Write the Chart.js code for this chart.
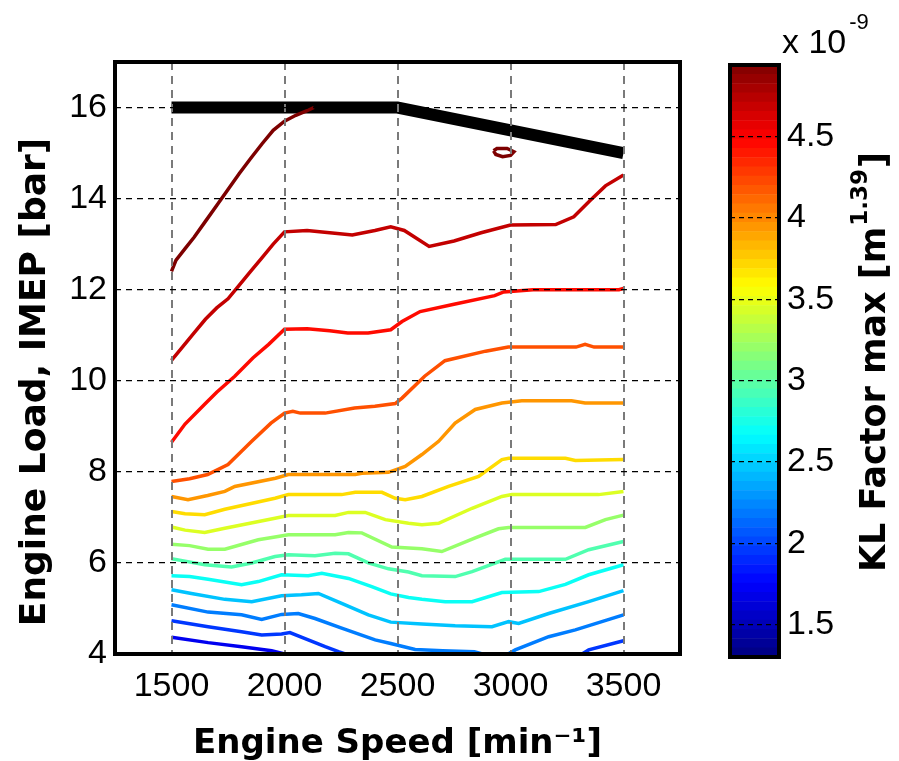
<!DOCTYPE html>
<html>
<head>
<meta charset="utf-8">
<script src="https://cdn.jsdelivr.net/npm/chart.js@4.4.1/dist/chart.umd.min.js"></script>
<style>
  body { margin: 0; background: #fff; }
  #wrap { position: relative; width: 899px; height: 761px; }
  #mapChart { position: absolute; left: 0; top: 0; }
  #barChart { position: absolute; left: 700px; top: 0; }
</style>
</head>
<body>
<div id="wrap">
  <canvas id="mapChart" width="700" height="761"></canvas>
  <canvas id="barChart" width="199" height="761"></canvas>
</div>
<script>
// axis ticks
const speedTicks = [1500, 2000, 2500, 3000, 3500];
const loadTicks = [4, 6, 8, 10, 12, 14, 16];
const cbarTicks = [1.5, 2, 2.5, 3, 3.5, 4, 4.5];
const cbarMin = 1.30;
const cbarMax = 4.94;

// full load limit
const fullLoadSpeed = [1500, 2500, 3500];
const fullLoadImep = [16, 16, 15];

// contour levels (x 10^-9), each line as [speed, imep]
const levels = [1.70, 1.95, 2.20, 2.45, 2.70, 2.95, 3.20, 3.45, 3.70, 3.95, 4.20, 4.45, 4.70, 4.95];

const c170 = [[1500,4.37],[1662,4.25],[1810,4.16],[1943,4.07],[2000,4.0],[2050,3.95]];
const c195 = [[1500,4.73],[1662,4.60],[1810,4.49],[1899,4.42],[1987,4.44],[2024,4.47],[2105,4.31],[2180,4.16],[2239,4.05],[2300,3.95],
              [2800,null],
              [3300,3.95],[3346,4.09],[3500,4.29]];
const c220 = [[1500,5.08],[1662,4.92],[1810,4.86],[1899,4.76],[1987,4.87],[2061,4.89],[2135,4.78],[2253,4.57],[2401,4.31],[2470,4.23],
              [2578,4.10],[2700,4.07],[2840,4.05],[2900,3.97],[2980,3.97],[3021,4.09],[3169,4.38],[3287,4.53],[3500,4.86]];
const c245 = [[1500,5.41],[1588,5.33],[1736,5.20],[1855,5.15],[1987,5.28],[2075,5.30],[2150,5.33],[2253,5.11],[2371,4.86],[2470,4.70],
              [2608,4.66],[2755,4.62],[2918,4.60],[2992,4.71],[3036,4.67],[3169,4.89],[3346,5.15],[3500,5.39]];
const c270 = [[1500,5.72],[1580,5.70],[1662,5.64],[1810,5.52],[1884,5.59],[1987,5.74],[2105,5.72],[2165,5.77],[2283,5.66],[2386,5.48],
              [2470,5.32],[2549,5.24],[2608,5.20],[2711,5.15],[2830,5.15],[2962,5.35],[3125,5.37],[3243,5.53],[3346,5.74],[3500,5.96]];
const c295 = [[1500,6.09],[1560,6.04],[1647,5.96],[1766,5.91],[1855,6.00],[1958,6.14],[2017,6.18],[2135,6.16],[2224,6.21],[2283,6.20],
              [2371,6.00],[2460,5.87],[2549,5.80],[2608,5.72],[2755,5.70],[2830,5.81],[2977,6.08],[3243,6.08],[3346,6.29],[3500,6.47]];
const c320 = [[1500,6.41],[1580,6.38],[1662,6.30],[1736,6.30],[1884,6.51],[1958,6.57],[2017,6.62],[2224,6.62],[2283,6.67],[2342,6.66],
              [2475,6.35],[2608,6.31],[2696,6.25],[2844,6.55],[2947,6.75],[2992,6.78],[3331,6.78],[3420,6.95],[3500,7.05]];
const c345 = [[1500,6.79],[1560,6.72],[1647,6.67],[1736,6.76],[1958,6.98],[2017,7.04],[2224,7.04],[2283,7.11],[2357,7.11],[2446,6.95],
              [2549,6.87],[2608,6.84],[2682,6.87],[2830,7.20],[2962,7.46],[3006,7.50],[3390,7.50],[3500,7.57]];
const c370 = [[1500,7.13],[1560,7.08],[1647,7.06],[1736,7.18],[1958,7.42],[2017,7.50],[2253,7.50],[2313,7.55],[2431,7.55],[2490,7.42],
              [2534,7.39],[2608,7.46],[2726,7.68],[2859,7.90],[2962,8.27],[2992,8.30],[3243,8.30],[3287,8.25],[3500,8.27]];
const c395 = [[1500,7.46],[1573,7.39],[1660,7.48],[1736,7.57],[1780,7.68],[1960,7.86],[2017,7.94],[2313,7.94],[2342,7.97],[2460,7.99],
              [2534,8.12],[2608,8.38],[2682,8.67],[2755,9.07],[2844,9.37],[2962,9.51],[3050,9.56],[3270,9.56],[3330,9.51],[3500,9.51]];
const c420 = [[1500,7.79],[1580,7.85],[1660,7.94],[1750,8.16],[1810,8.45],[1855,8.67],[1940,9.07],[2000,9.29],[2037,9.33],[2070,9.29],
              [2180,9.29],[2310,9.40],[2400,9.44],[2490,9.50],[2520,9.62],[2620,10.10],[2710,10.44],[2890,10.65],[2990,10.74],[3290,10.74],
              [3330,10.80],[3370,10.74],[3500,10.74]];
const c445 = [[1500,8.65],[1560,9.05],[1650,9.50],[1700,9.75],[1780,10.10],[1860,10.50],[1930,10.80],[2000,11.13],[2100,11.14],[2200,11.10],
              [2280,11.05],[2370,11.05],[2470,11.12],[2520,11.30],[2600,11.52],[2750,11.68],[2930,11.87],[2970,11.95],[3100,12.00],[3480,12.00],[3500,12.03]];
const c470 = [[1500,10.45],[1550,10.75],[1600,11.05],[1650,11.35],[1700,11.60],[1750,11.80],[1800,12.10],[1850,12.40],[1900,12.70],[1950,13.00],
              [2000,13.27],[2100,13.30],[2200,13.25],[2300,13.20],[2400,13.30],[2470,13.38],[2530,13.30],[2640,12.95],[2750,13.07],[2870,13.25],
              [3000,13.42],[3200,13.43],[3280,13.60],[3350,13.95],[3420,14.28],[3500,14.52]];
const c495 = [[1500,12.40],[1520,12.65],[1560,12.90],[1600,13.15],[1650,13.50],[1700,13.85],[1750,14.20],[1800,14.55],[1850,14.88],[1900,15.20],
              [1950,15.50],[2000,15.70],[2050,15.83],[2100,15.93],[2130,16.00]];
const c495b = [[2925,15.05],[2940,15.10],[2985,15.10],[3015,15.03],[3000,14.95],[2965,14.92],[2935,14.97],[2925,15.05]];

const contourLines = [c170, c195, c220, c245, c270, c295, c320, c345, c370, c395, c420, c445, c470, c495];

// MATLAB jet colour for a value on the colour bar range
function jet(v) {
    const t = (v - cbarMin) / (cbarMax - cbarMin);
    const c = x => Math.round(255 * Math.max(0, Math.min(1, x)));
    return 'rgb(' + c(Math.min(4 * t - 1.5, -4 * t + 4.5)) + ',' +
        c(Math.min(4 * t - 0.5, -4 * t + 3.5)) + ',' +
        c(Math.min(4 * t + 0.5, -4 * t + 2.5)) + ')';
}

const toXY = pts => pts.map(p => ({x: p[0], y: p[1]}));

const boxPlugin = {
    id: 'box',
    afterDraw(chart) {
        const a = chart.chartArea;
        const ctx = chart.ctx;
        ctx.save();
        ctx.lineWidth = 4;
        ctx.strokeStyle = '#000';
        ctx.strokeRect(a.left, a.top, a.right - a.left, a.bottom - a.top);
        ctx.restore();
    }
};

// y label drawn by hand so it can sit a little below the axis centre, like the original
const yLabel = {
    id: 'yLabel',
    afterDraw(chart) {
        const ctx = chart.ctx;
        ctx.save();
        ctx.translate(36, 382);
        ctx.rotate(-Math.PI / 2);
        ctx.fillStyle = '#000';
        ctx.font = 'bold 36px "DejaVu Sans"';
        ctx.textAlign = 'center';
        ctx.textBaseline = 'middle';
        ctx.fillText('Engine Load, IMEP [bar]', 0, 0);
        ctx.restore();
    }
};

document.addEventListener('DOMContentLoaded', function() {
    // Contour map
    const datasets = contourLines.map((pts, i) => ({
        data: toXY(pts),
        borderColor: jet(levels[i]),
        borderWidth: 3.5,
        pointRadius: 0,
        tension: 0
    }));
    datasets.push({
        data: toXY(c495b),
        borderColor: jet(levels[levels.length - 1]),
        borderWidth: 3.5,
        pointRadius: 0,
        tension: 0
    });
    datasets.push({
        data: fullLoadSpeed.map((s, i) => ({x: s, y: fullLoadImep[i]})),
        borderColor: '#000',
        borderWidth: 12,
        borderCapStyle: 'butt',
        pointRadius: 0,
        tension: 0
    });

    new Chart(document.getElementById('mapChart').getContext('2d'), {
        type: 'line',
        data: { datasets: datasets },
        options: {
            responsive: false,
            animation: false,
            layout: { padding: { left: 0, top: 62, right: 20, bottom: 0 } },
            plugins: { legend: { display: false }, tooltip: { enabled: false } },
            scales: {
                x: {
                    type: 'linear', min: 1250, max: 3750,
                    afterBuildTicks: s => { s.ticks = speedTicks.map(v => ({value: v})); },
                    afterFit: s => { s.height = 107; },
                    grid: { color: '#7a7a7a', lineWidth: 2, drawTicks: false, z: 1 },
                    border: { display: false, dash: [8, 6] },
                    ticks: { font: { family: 'Liberation Sans', size: 34 }, color: '#000', padding: 12, maxRotation: 0,
                             callback: v => String(v) },
                    title: { display: true, text: 'Engine Speed [min\u207B\u00B9]', color: '#000',
                             font: { family: 'DejaVu Sans', size: 34, weight: 'bold', lineHeight: 1 },
                             padding: { top: 0, bottom: 0 } }
                },
                y: {
                    type: 'linear', min: 4, max: 17,
                    afterBuildTicks: s => { s.ticks = loadTicks.map(v => ({value: v})); },
                    afterFit: s => { s.width = 115; },
                    grid: { color: '#000', lineWidth: 1.3, drawTicks: false, z: 1 },
                    border: { display: false, dash: [6, 5] },
                    ticks: { font: { family: 'Liberation Sans', size: 34 }, color: '#000', padding: 8,
                             callback: v => String(v) }
                }
            }
        },
        plugins: [boxPlugin, yLabel]
    });

    // Colour bar
    const bandCount = 64;
    const bandStep = (cbarMax - cbarMin) / bandCount;
    const bands = [];
    for (let i = 0; i < bandCount; i++) {
        const lo = cbarMin + i * bandStep;
        bands.push({
            data: [[lo, lo + bandStep]],
            backgroundColor: jet(lo + bandStep / 2),
            borderWidth: 0,
            barPercentage: 1,
            categoryPercentage: 1
        });
    }

    const cbarText = {
        id: 'cbarText',
        afterDraw(chart) {
            const ctx = chart.ctx;
            const a = chart.chartArea;
            ctx.save();
            ctx.fillStyle = '#000';
            // exponent label
            ctx.textBaseline = 'alphabetic';
            ctx.textAlign = 'left';
            ctx.font = '34px "Liberation Sans"';
            ctx.fillText('x 10', 82, 53);
            const w = ctx.measureText('x 10').width;
            ctx.font = '22px "Liberation Sans"';
            ctx.fillText('-9', 82 + w + 3, 29);
            // axis title, rotated
            ctx.translate(176, (a.top + a.bottom) / 2 + 2);
            ctx.rotate(-Math.PI / 2);
            const big = 'bold 35px "DejaVu Sans"';
            const small = 'bold 23px "DejaVu Sans"';
            const p1 = 'KL Factor max [m', p2 = '1.39', p3 = ']';
            ctx.font = big; const w1 = ctx.measureText(p1).width; const w3 = ctx.measureText(p3).width;
            ctx.font = small; const w2 = ctx.measureText(p2).width;
            let x = -(w1 + w2 + w3) / 2;
            ctx.textBaseline = 'middle';
            ctx.font = big; ctx.fillText(p1, x, 0); x += w1;
            ctx.font = small; ctx.fillText(p2, x + 1, -15); x += w2 + 2;
            ctx.font = big; ctx.fillText(p3, x, 0);
            ctx.restore();
        }
    };

    new Chart(document.getElementById('barChart').getContext('2d'), {
        type: 'bar',
        data: { labels: ['kl'], datasets: bands },
        options: {
            responsive: false,
            animation: false,
            layout: { padding: { left: 30, top: 65, right: 0, bottom: 104 } },
            plugins: { legend: { display: false }, tooltip: { enabled: false } },
            scales: {
                x: { display: false, stacked: true },
                y: {
                    position: 'right', min: cbarMin, max: cbarMax,
                    afterBuildTicks: s => { s.ticks = cbarTicks.map(v => ({value: v})); },
                    afterFit: s => { s.width = 120; },
                    grid: { color: '#000', lineWidth: 1.2, drawTicks: false, z: 1 },
                    border: { display: false, dash: [5, 4] },
                    ticks: { font: { family: 'Liberation Sans', size: 34 }, color: '#000', padding: 8,
                             callback: v => String(v) }
                }
            }
        },
        plugins: [boxPlugin, cbarText]
    });
});
</script>
</body>
</html>
